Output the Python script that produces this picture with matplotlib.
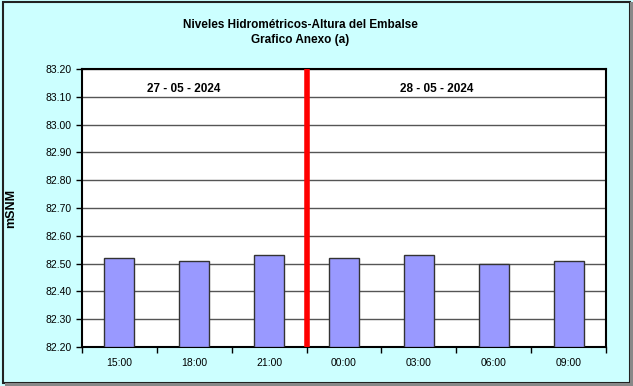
import matplotlib.pyplot as plt
from matplotlib.patches import Rectangle

horas = ["15:00", "18:00", "21:00", "00:00", "03:00", "06:00", "09:00"]
niveles = [82.52, 82.51, 82.53, 82.52, 82.53, 82.50, 82.51]
fechas = ["27 - 05 - 2024", "28 - 05 - 2024"]

plt.rcParams["font.family"] = ["Liberation Sans", "DejaVu Sans"]

fig = plt.figure(figsize=(6.33, 3.86), dpi=100, facecolor="#ccffff")
ax = fig.add_axes([0.1295, 0.101, 0.828, 0.720])

x = list(range(len(horas)))
ax.bar(x, [v - 82.2 for v in niveles], bottom=82.2, width=0.4,
       color="#9999ff", edgecolor="#333333", linewidth=1.0, zorder=3)

ax.set_xlim(-0.5, len(horas) - 0.5)
ax.set_ylim(82.2, 83.2)
yt = [82.2 + 0.1 * i for i in range(11)]
ax.set_yticks(yt)
ax.set_yticklabels([f"{v:.2f}" for v in yt], fontsize=7.5)
ax.yaxis.grid(True, color="#555555", lw=1.0, zorder=1)
ax.set_xticks(x)
ax.set_xticklabels(horas, fontsize=7.5)
ax.set_xticks([i + 0.5 for i in range(-1, len(horas))], minor=True)
ax.tick_params(axis="x", which="major", length=0, pad=8)
ax.tick_params(axis="x", which="minor", length=4, width=1)
ax.tick_params(axis="y", length=4, width=1)
for s in ax.spines.values():
    s.set_linewidth(1.5)
    s.set_color("black")

# fecha separator
ax.axvline(2.5, color="#ff0000", lw=4, zorder=4)
ax.text(0.86, 83.13, fechas[0], ha="center", va="center",
        fontsize=8.5, fontweight="bold")
ax.text(4.24, 83.13, fechas[1], ha="center", va="center",
        fontsize=8.5, fontweight="bold")

ax.set_ylabel("mSNM", fontsize=9, fontweight="bold", labelpad=20)

fig.text(0.474, 0.935, "Niveles Hidrométricos-Altura del Embalse",
         ha="center", va="center", fontsize=8.5, fontweight="bold")
fig.text(0.474, 0.897, "Grafico Anexo (a)",
         ha="center", va="center", fontsize=8.5, fontweight="bold")

# frame with shadow
fig.patches.append(Rectangle((0.004, 0.008), 0.991, 0.988,
                             transform=fig.transFigure, fill=False,
                             edgecolor="#222222", lw=1.5))
fig.patches.append(Rectangle((0.995, 0.0), 0.005, 0.996,
                             transform=fig.transFigure, facecolor="#888888",
                             edgecolor="none"))
fig.patches.append(Rectangle((0.008, 0.0), 0.992, 0.008,
                             transform=fig.transFigure, facecolor="#888888",
                             edgecolor="none"))

fig.savefig("out.png", dpi=100, facecolor=fig.get_facecolor())
